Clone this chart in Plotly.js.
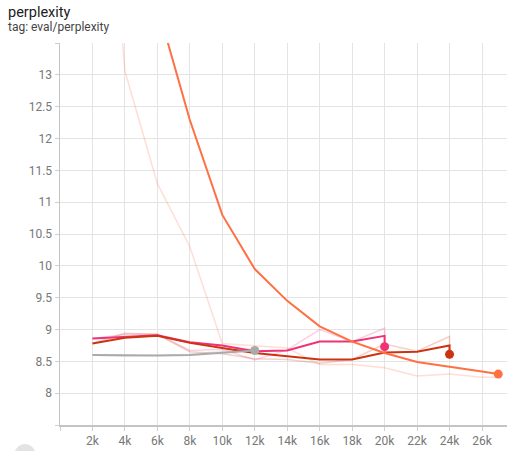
<!DOCTYPE html>
<html>
<head>
<meta charset="utf-8">
<script src="https://cdn.plot.ly/plotly-3.0.1.min.js"></script>
<style>
  html, body { margin: 0; padding: 0; background: #fff; }
  #chart { width: 508px; height: 451px; }
</style>
</head>
<body>
<div id="chart"></div>
<script>
// ---- data ----
const orangeSteps  = [2000, 4000, 6000, 8000, 10000, 12000, 14000, 16000, 18000, 20000, 22000, 24000, 26000, 27000];
const orangeSmooth = [19.1, 16.4, 14.08, 12.29, 10.80, 9.95, 9.45, 9.05, 8.81, 8.63, 8.49, 8.42, 8.34, 8.30];
const orangeRaw    = [19.1, 13.06, 11.29, 10.30, 8.78, 8.74, 8.71, 8.45, 8.45, 8.40, 8.27, 8.30, 8.25, 8.25];

const pinkSteps  = [2000, 4000, 6000, 8000, 10000, 12000, 14000, 16000, 18000, 20000, 20000];
const pinkSmooth = [8.86, 8.89, 8.91, 8.80, 8.75, 8.66, 8.67, 8.81, 8.81, 8.90, 8.73];
const pinkRaw    = [8.86, 8.92, 8.93, 8.67, 8.69, 8.52, 8.68, 9.00, 8.81, 9.02, 8.73];

const redSteps  = [2000, 4000, 6000, 8000, 10000, 12000, 14000, 16000, 18000, 20000, 22000, 24000, 24000];
const redSmooth = [8.78, 8.87, 8.90, 8.79, 8.71, 8.63, 8.58, 8.53, 8.53, 8.64, 8.65, 8.75, 8.61];
const redRaw    = [8.78, 8.94, 8.92, 8.65, 8.62, 8.54, 8.53, 8.47, 8.53, 8.77, 8.66, 8.89, 8.61];

const graySteps  = [2000, 4000, 6000, 8000, 10000, 12000];
const graySmooth = [8.60, 8.59, 8.59, 8.60, 8.63, 8.67];
const grayRaw    = [8.60, 8.58, 8.59, 8.61, 8.66, 8.70];

const xTickVals = [0, 2000, 4000, 6000, 8000, 10000, 12000, 14000, 16000, 18000, 20000, 22000, 24000, 26000];
const xTickText = ['', '2k', '4k', '6k', '8k', '10k', '12k', '14k', '16k', '18k', '20k', '22k', '24k', '26k'];
const yTickVals = [7.5, 8, 8.5, 9, 9.5, 10, 10.5, 11, 11.5, 12, 12.5, 13, 13.5];
const yTickText = ['', '8', '8.5', '9', '9.5', '10', '10.5', '11', '11.5', '12', '12.5', '13', ''];

// ---- styles ----
const series = [
  {x: pinkSteps,   s: pinkSmooth,   r: pinkRaw,   color: '#ee3377'},
  {x: redSteps,    s: redSmooth,    r: redRaw,    color: '#cc3311'},
  {x: orangeSteps, s: orangeSmooth, r: orangeRaw, color: '#ff7043'},
  {x: graySteps,   s: graySmooth,   r: grayRaw,   color: '#aaaaaa'}
];

const traces = [];
series.forEach(sr => {
  traces.push({x: sr.x, y: sr.r, type: 'scatter', mode: 'lines',
    line: {color: sr.color, width: 1.5}, opacity: 0.22, showlegend: false, hoverinfo: 'skip'});
});
series.forEach(sr => {
  traces.push({x: sr.x, y: sr.s, type: 'scatter', mode: 'lines',
    line: {color: sr.color, width: 2}, showlegend: false, hoverinfo: 'skip'});
});
series.forEach(sr => {
  traces.push({x: [sr.x[sr.x.length - 1]], y: [sr.s[sr.s.length - 1]], type: 'scatter', mode: 'markers',
    marker: {color: sr.color, size: 9}, showlegend: false, hoverinfo: 'skip', cliponaxis: false});
});

const layout = {
  width: 508, height: 451,
  margin: {l: 60, r: 1, t: 43, b: 26},
  paper_bgcolor: '#ffffff', plot_bgcolor: '#ffffff',
  font: {family: 'Roboto, sans-serif', color: '#777777', size: 12},
  showlegend: false,
  hovermode: false,
  title: {text: 'perplexity', x: 8 / 508, xanchor: 'left', xref: 'container',
          y: 1 - 12 / 451, yanchor: 'middle', yref: 'container',
          font: {family: 'Roboto, sans-serif', size: 14.5, color: '#212121'}},
  annotations: [{
    text: 'tag: eval/perplexity', xref: 'paper', yref: 'paper',
    x: (6 - 60) / 447, xanchor: 'left', y: 1 + (43 - 27) / 382, yanchor: 'middle',
    showarrow: false, font: {family: 'Roboto, sans-serif', size: 12, color: '#444444'}
  }],
  xaxis: {
    range: [0, 27540], tickvals: xTickVals, ticktext: xTickText,
    showgrid: true, gridcolor: '#e4e4e4', gridwidth: 1,
    showline: true, linecolor: '#c4c4c4', linewidth: 1.5,
    ticks: 'outside', ticklen: 4, tickcolor: '#d0d0d0',
    zeroline: false, fixedrange: true,
    tickfont: {size: 12, color: '#777777'}
  },
  yaxis: {
    range: [7.5, 13.5], tickvals: yTickVals, ticktext: yTickText,
    showgrid: true, gridcolor: '#e4e4e4', gridwidth: 1,
    showline: true, linecolor: '#c4c4c4', linewidth: 1.5,
    ticks: 'outside', ticklen: 4, tickcolor: '#d0d0d0',
    zeroline: false, fixedrange: true,
    tickfont: {size: 12, color: '#777777'}
  },
  shapes: [{
    type: 'circle', xref: 'paper', yref: 'paper',
    x0: (14 - 60) / 447, x1: (36 - 60) / 447,
    y0: -(468 - 425) / 382, y1: -(444 - 425) / 382,
    fillcolor: '#e3e3e3', line: {width: 0}, layer: 'above'
  }]
};

Plotly.newPlot('chart', traces, layout, {displayModeBar: false, staticPlot: true});
</script>
</body>
</html>
